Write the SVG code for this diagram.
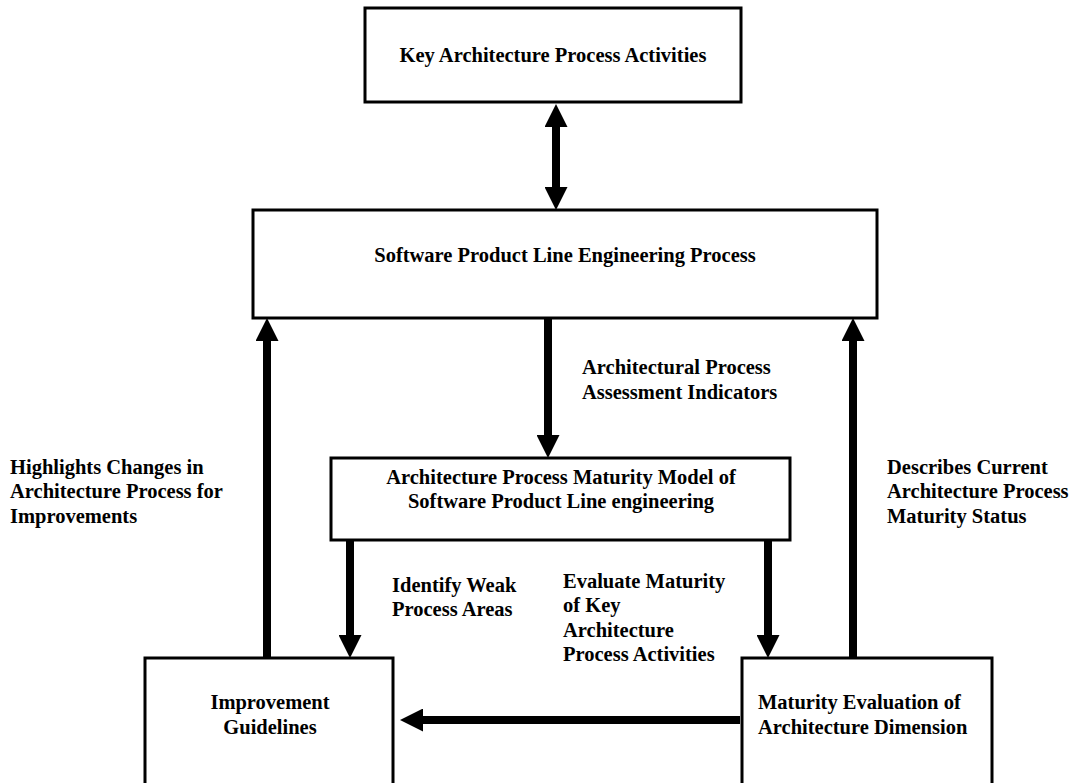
<svg xmlns="http://www.w3.org/2000/svg" width="1075" height="783" viewBox="0 0 1075 783">
<style>
.box{fill:#fff;stroke:#000;stroke-width:3}
.t{font-family:'Liberation Serif','DejaVu Serif',serif;font-weight:bold;font-size:20.5px;fill:#000}
.c{text-anchor:middle}
.a{stroke:#000;stroke-width:8;fill:none}
</style>
<defs>
<marker id="ah" markerUnits="userSpaceOnUse" markerWidth="23" markerHeight="23" viewBox="0 0 23 23" refX="1" refY="11.5" orient="auto-start-reverse">
<path d="M0,0 L23,11.5 L0,23 z" fill="#000"/>
</marker>
</defs>
<rect width="1075" height="783" fill="#fff"/>
<g id="connectors">
<line class="a" x1="556" y1="126" x2="556" y2="188" marker-start="url(#ah)" marker-end="url(#ah)"/>
<line class="a" x1="548" y1="318" x2="548" y2="436" marker-end="url(#ah)"/>
<line class="a" x1="267" y1="658" x2="267" y2="340" marker-end="url(#ah)"/>
<line class="a" x1="853" y1="658" x2="853" y2="340" marker-end="url(#ah)"/>
<line class="a" x1="350" y1="540" x2="350" y2="636" marker-end="url(#ah)"/>
<line class="a" x1="768" y1="540" x2="768" y2="636" marker-end="url(#ah)"/>
<line class="a" x1="740" y1="720" x2="422" y2="720" marker-end="url(#ah)"/>
<text class="t" x="582" y="374">Architectural Process</text>
<text class="t" x="582" y="399">Assessment Indicators</text>
<text class="t" x="392" y="592">Identify Weak</text>
<text class="t" x="392" y="616">Process Areas</text>
<text class="t" x="563" y="588">Evaluate Maturity</text>
<text class="t" x="563" y="612">of Key</text>
<text class="t" x="563" y="637">Architecture</text>
<text class="t" x="563" y="661">Process Activities</text>
<text class="t" x="10" y="474">Highlights Changes in</text>
<text class="t" x="10" y="498">Architecture Process for</text>
<text class="t" x="10" y="523">Improvements</text>
<text class="t" x="887" y="474">Describes Current</text>
<text class="t" x="887" y="498">Architecture Process</text>
<text class="t" x="887" y="523">Maturity Status</text>
</g>
<g id="key-activities">
<rect class="box" x="365" y="8" width="376" height="94"/>
<text class="t c" x="553" y="62">Key Architecture Process Activities</text>
</g>
<g id="spl-process">
<rect class="box" x="253" y="210" width="624" height="108"/>
<text class="t c" x="565" y="262">Software Product Line Engineering Process</text>
</g>
<g id="maturity-model">
<rect class="box" x="331" y="458" width="459" height="82"/>
<text class="t c" x="561" y="484">Architecture Process Maturity Model of</text>
<text class="t c" x="561" y="508">Software Product Line engineering</text>
</g>
<g id="improvement">
<rect class="box" x="145" y="658" width="248" height="130"/>
<text class="t c" x="270" y="709">Improvement</text>
<text class="t c" x="270" y="734">Guidelines</text>
</g>
<g id="maturity-evaluation">
<rect class="box" x="742" y="658" width="250" height="130"/>
<text class="t" x="758" y="709">Maturity Evaluation of</text>
<text class="t" x="758" y="734">Architecture Dimension</text>
</g>
</svg>
